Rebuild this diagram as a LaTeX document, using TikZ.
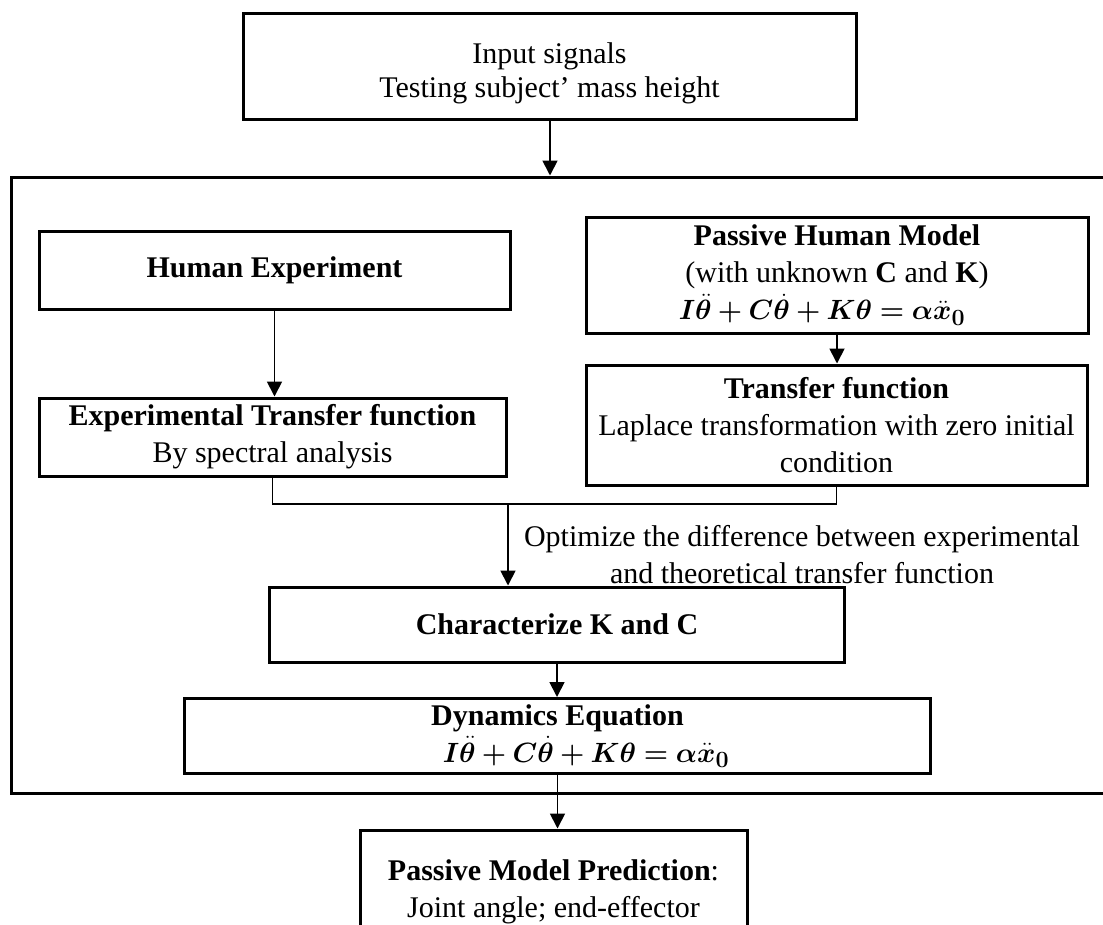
\documentclass[tikz,border=0pt]{standalone}
\usepackage{graphicx}
\usepackage{amsmath,bm}
\usepackage{fontspec}
\setmainfont{Liberation Serif}
\usetikzlibrary{arrows.meta}
\newcommand{\bigeq}{\scalebox{1.12}{$\bm{I\ddot{\theta}+C\dot{\theta}+K\theta=\alpha\ddot{x}_0}$}}
\begin{document}
\begin{tikzpicture}[x=1pt,y=-1pt,
  box/.style={draw,line width=3pt,rectangle,inner sep=0pt,align=center,
    font=\fontsize{30}{37}\selectfont},
  conn/.style={line width=1.8pt},
  arr/.style={conn,-{Triangle[width=15pt,length=15pt]}},
  lbl/.style={inner sep=0pt,align=center,font=\fontsize{30}{37}\selectfont}]
\clip (0,0) rectangle (1103,924);
\useasboundingbox (0,0) rectangle (1103,924);
\node[draw,line width=3pt,minimum width=1099pt,minimum height=616pt,inner sep=0pt] (outer) at (560.5,485) {};
\node[box,minimum width=613pt,minimum height=106pt,
  label={[lbl,font=\fontsize{30}{34}\selectfont,yshift=-7pt]center:Input signals\\Testing subject' mass height}] (top) at (549.5,66) {};
\node[box,minimum width=471pt,minimum height=78pt] (human) at (274.5,270) {\textbf{Human Experiment}};
\node[box,minimum width=467pt,minimum height=78pt] (exptf) at (272.5,437) {\textbf{Experimental Transfer function}\\By spectral analysis};
\node[box,minimum width=502pt,minimum height=116pt] (passive) at (837,275) {\textbf{Passive Human Model}\\(with unknown \textbf{C} and \textbf{K})\\\hspace*{-30pt}\bigeq};
\node[box,minimum width=501pt,minimum height=120pt] (tf) at (836.5,425) {\textbf{Transfer function}\\Laplace transformation with zero initial\\condition};
\node[box,minimum width=575pt,minimum height=75pt] (char) at (557,624.5) {\textbf{Characterize K and C}};
\node[box,minimum width=746pt,minimum height=75pt] (dyn) at (557.5,736) {\textbf{Dynamics Equation}\\\hspace*{57pt}\bigeq};
\node[box,minimum width=387pt,minimum height=124pt] (pred) at (553.5,892) {\textbf{Passive Model Prediction}:\\Joint angle; end-effector};
\node[lbl] (opt) at (802,555) {Optimize the difference between experimental\\and theoretical transfer function};
\coordinate (a) at (550,0);
\coordinate (j) at (508,504);
\draw[arr] (top.south -| a) -- (outer.north -| a);
\draw[arr] (human.south) -- (human.south |- exptf.north);
\draw[arr] (passive.south) -- (passive.south |- tf.north);
\draw[conn] (exptf.south) |- (j) -| (tf.south);
\draw[arr] (j) -- (j |- char.north);
\draw[arr] (char.south) -- (char.south |- dyn.north);
\draw[arr] (dyn.south) -- (dyn.south |- pred.north);
\end{tikzpicture}
\end{document}
